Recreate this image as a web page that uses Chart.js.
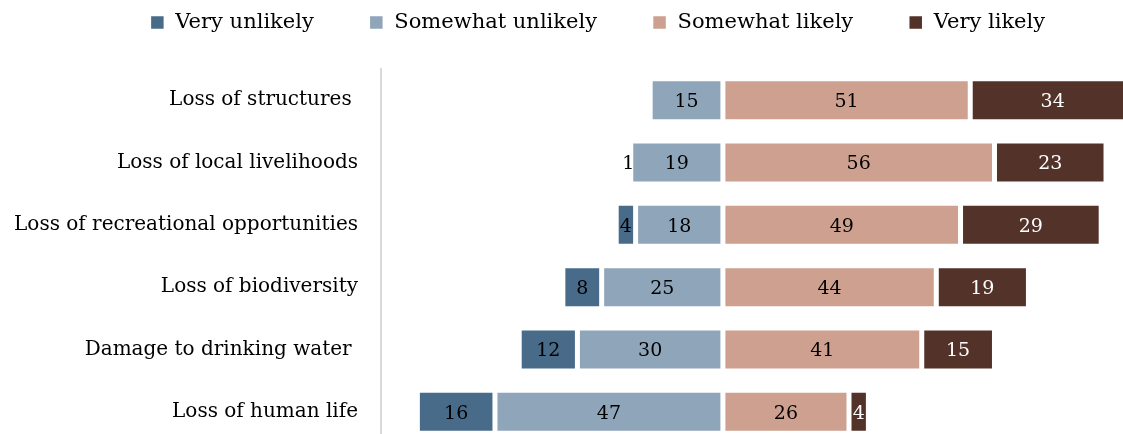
<!DOCTYPE html>
<html>
<head>
<meta charset="utf-8">
<script src="https://cdn.jsdelivr.net/npm/chart.js@4.4.0/dist/chart.umd.min.js"></script>
<style>
  html, body { margin: 0; padding: 0; overflow: hidden; background: #fff; }
  canvas { display: block; }
</style>
</head>
<body>
<canvas id="riskChart" width="1123" height="478"></canvas>
<script>
    // trailing spaces kept as in the original labels
    const categories = ['Loss of structures ', 'Loss of local livelihoods', 'Loss of recreational opportunities',
        'Loss of biodiversity', 'Damage to drinking water ', 'Loss of human life'];

    const veryUnlikely = [0, 1, 4, 8, 12, 16];
    const somewhatUnlikely = [15, 19, 18, 25, 30, 47];
    const somewhatLikely = [51, 56, 49, 44, 41, 26];
    const veryLikely = [34, 23, 29, 19, 15, 4];

    const legendOrder = ['Very unlikely', 'Somewhat unlikely', 'Somewhat likely', 'Very likely'];

    const serif = '"DejaVu Serif", "Liberation Serif", serif';

    // unlikely side goes left of zero; somewhat unlikely has to sit next to the axis
    const chartData = {
        labels: categories,
        datasets: [{
            label: 'Somewhat unlikely',
            data: somewhatUnlikely.map(v => -v),
            backgroundColor: '#8FA5BA',
            textColor: '#000'
        }, {
            label: 'Very unlikely',
            data: veryUnlikely.map(v => -v),
            backgroundColor: '#486B8A',
            textColor: '#000'
        }, {
            label: 'Somewhat likely',
            data: somewhatLikely,
            backgroundColor: '#CDA090',
            textColor: '#000'
        }, {
            label: 'Very likely',
            data: veryLikely,
            backgroundColor: '#533229',
            textColor: '#fff'
        }]
    };

    chartData.datasets.forEach(ds => {
        ds.borderColor = '#fff';
        ds.borderWidth = 2.5;
        ds.borderSkipped = false;
        ds.barPercentage = 0.69;
        ds.categoryPercentage = 1;
    });

    const barLabels = {
        id: 'barLabels',
        afterDatasetsDraw(chart) {
            const ctx = chart.ctx;
            ctx.save();
            ctx.font = '19px ' + serif;
            ctx.textAlign = 'center';
            ctx.textBaseline = 'middle';
            chart.data.datasets.forEach((ds, i) => {
                chart.getDatasetMeta(i).data.forEach((bar, j) => {
                    const v = Math.abs(ds.data[j]);
                    if (!v) return;
                    const p = bar.getProps(['x', 'base', 'y'], true);
                    ctx.fillStyle = ds.textColor;
                    ctx.fillText(String(v), (p.x + p.base) / 2, p.y + 2);
                });
            });
            ctx.restore();
        }
    };

    // legend padding doubles as the item gap, so pin its height and nudge it up
    const legendSpot = {
        id: 'legendSpot',
        beforeUpdate(chart) {
            const lg = chart.legend;
            if (!lg || lg._patched) return;
            lg._patched = true;
            const fit = lg.fit, inner = lg._draw;
            lg.fit = function () { fit.call(this); this.height = 69; };
            lg._draw = function () {
                const ctx = this.ctx;
                ctx.save();
                ctx.translate(36, -43);
                inner.call(this);
                ctx.restore();
            };
        }
    };

    window.onload = function () {
        new Chart(document.getElementById('riskChart'), {
            type: 'bar',
            data: chartData,
            plugins: [barLabels, legendSpot],
            options: {
                indexAxis: 'y',
                responsive: false,
                animation: false,
                layout: { padding: 0 },
                plugins: {
                    tooltip: { enabled: false },
                    legend: {
                        position: 'top',
                        labels: {
                            font: { family: serif, size: 21 },
                            color: '#000',
                            boxWidth: 15,
                            boxHeight: 15,
                            padding: 55,
                            sort: (a, b) => legendOrder.indexOf(a.text) - legendOrder.indexOf(b.text)
                        }
                    }
                },
                scales: {
                    x: {
                        stacked: true,
                        display: false,
                        min: -70.5,
                        max: 82.5
                    },
                    y: {
                        stacked: true,
                        grid: { display: false, drawTicks: false },
                        border: { display: true, color: '#d9d9d9', width: 2 },
                        ticks: {
                            font: { family: serif, size: 20 },
                            color: '#000',
                            padding: 23
                        },
                        afterFit(scale) { scale.width = 381; }
                    }
                }
            }
        });
    };
</script>
</body>
</html>
